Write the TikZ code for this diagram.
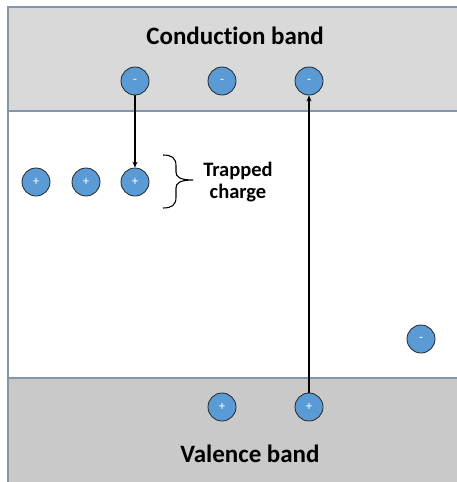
\documentclass[tikz,border=0pt]{standalone}
\usepackage{fontspec}
\setmainfont{Carlito}[Ligatures={NoCommon}]
\usetikzlibrary{arrows.meta}
\definecolor{cbgrey}{HTML}{D9D9D9}
\definecolor{vbgrey}{HTML}{C9C9C9}
\definecolor{frameblue}{HTML}{8496AE}
\definecolor{chargeblue}{HTML}{5B9BD5}
\tikzset{
  charge/.style={circle, fill=chargeblue, draw=black!85, line width=0.8pt,
    minimum size=28pt, inner sep=0pt, text=white, font=\fontsize{13}{14}\selectfont},
  arr/.style={line width=1.4pt, -{Stealth[length=6pt,width=5pt]}},
  bandlabel/.style={font=\bfseries\fontsize{25}{30}\selectfont, anchor=base},
  framel/.style={draw=frameblue, line width=1.3pt}
}
\begin{document}
\begin{tikzpicture}[x=1pt,y=-1pt]
\useasboundingbox (0,0) rectangle (456,482);
% bands
\fill[cbgrey] (8,7) rectangle (470,111);
\fill[white] (8,111) rectangle (470,378);
\fill[vbgrey] (8,378) rectangle (470,495);
\draw[framel] (470,7) -- (8,7) -- (8,495);
\draw[framel] (8,111) -- (470,111);
\draw[framel] (8,378) -- (470,378);
% labels
\node[bandlabel] (cb) at (235,44) {Conduction band};
\node[bandlabel] (vb) at (250,462) {Valence band};
% conduction electrons
\node[charge] (c1) at (135,81) {-};
\node[charge] (c2) at (222,81) {-};
\node[charge] (c3) at (309,81) {-};
% trapped holes
\node[charge] (t1) at (36,182) {+};
\node[charge] (t2) at (86,182) {+};
\node[charge] (t3) at (135,182) {+};
% valence holes
\node[charge] (v1) at (222,407) {+};
\node[charge] (v2) at (309,407) {+};
% free electron
\node[charge] (f1) at (421,339) {-};
% arrows
\draw[arr] (c1) -- (t3);
\draw[arr] (v2) -- (c3);
% brace
\draw[line width=1.1pt] (163,155) .. controls (172,155) and (176,158) .. (176,166) -- (176,172)
  .. controls (176,177) and (180,180) .. (193,180)
  .. controls (180,180) and (176,183) .. (176,188) -- (176,197)
  .. controls (176,205) and (172,208) .. (163,208);
\node[font=\bfseries\fontsize{20.5}{21.5}\selectfont, align=center, anchor=base] (tc) at (238,198) {Trapped\\charge};
\end{tikzpicture}
\end{document}
